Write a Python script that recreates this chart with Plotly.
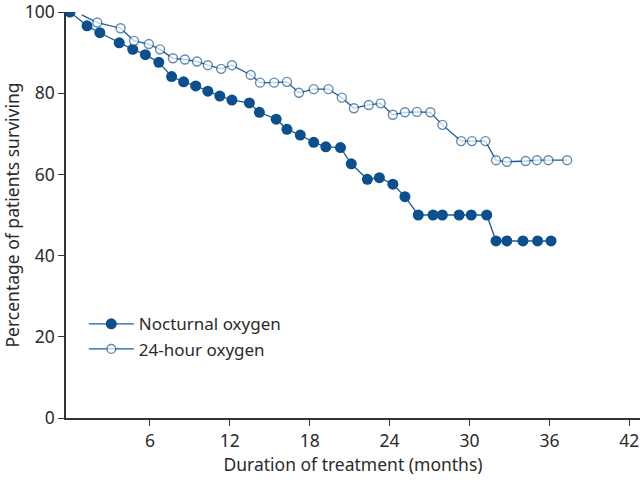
import plotly.graph_objects as go

# Nocturnal oxygen (filled markers)
noct_x = [0.0, 1.28, 2.24, 3.70, 4.71, 5.66, 6.67, 7.63, 8.53, 9.44, 10.35, 11.25, 12.16,
          13.47, 14.22, 15.48, 16.29, 17.29, 18.3, 19.21, 20.31, 21.12, 22.33, 23.23, 24.24,
          25.15, 26.15, 27.26, 27.96, 29.22, 30.13, 31.29, 31.99, 32.8, 34.01, 35.11, 36.12]
noct_y = [100.0, 96.6, 94.9, 92.4, 90.8, 89.5, 87.6, 84.1, 82.8, 81.8, 80.5, 79.3, 78.3,
          77.6, 75.3, 73.6, 71.1, 69.7, 67.9, 66.8, 66.6, 62.6, 58.8, 59.2, 57.6,
          54.5, 50.0, 50.0, 50.0, 50.0, 50.0, 50.0, 43.6, 43.6, 43.6, 43.6, 43.6]

# 24-hour oxygen (open markers); first point is the line start without a marker
h24_x = [0.88, 2.05, 3.80, 4.81, 5.92, 6.76, 7.73, 8.63, 9.54, 10.35, 11.35, 12.16, 13.57,
         14.27, 15.33, 16.29, 17.19, 18.3, 19.41, 20.41, 21.32, 22.43, 23.33, 24.24, 25.15,
         26.05, 27.06, 27.96, 29.37, 30.18, 31.19, 31.99, 32.8, 34.21, 35.06, 35.92, 37.33]
h24_y = [99.3, 97.4, 96.0, 92.9, 92.1, 90.8, 88.6, 88.3, 87.8, 86.9, 86.0, 86.9, 84.5,
         82.6, 82.6, 82.8, 80.1, 81.0, 81.0, 78.9, 76.3, 77.1, 77.5, 74.7, 75.3,
         75.4, 75.3, 72.2, 68.2, 68.2, 68.2, 63.5, 63.1, 63.3, 63.5, 63.5, 63.5]

x_ticks = [6, 12, 18, 24, 30, 36, 42]
y_ticks = [0, 20, 40, 60, 80, 100]

BLUE = "#0b4f8e"
LINE = "#1f5c96"
AX = "#333333"
FONT = "Noto Sans"
FS = 17.5

fig = go.Figure()
fig.add_trace(go.Scatter(
    x=noct_x, y=noct_y, mode="lines+markers", name="Nocturnal oxygen",
    line=dict(color=LINE, width=1.3),
    marker=dict(symbol="circle", size=11, color=BLUE, line=dict(width=0)),
))
h24_sizes = [0] + [9] * (len(h24_x) - 1)
fig.add_trace(go.Scatter(
    x=h24_x, y=h24_y, mode="lines+markers", name="24-hour oxygen",
    line=dict(color=LINE, width=1.3),
    marker=dict(symbol="circle", size=h24_sizes, color="white",
                line=dict(color=LINE, width=1.4)),
))

fig.update_layout(
    width=640, height=480,
    margin=dict(l=66, r=0, t=12, b=62, autoexpand=False),
    paper_bgcolor="white", plot_bgcolor="white",
    font=dict(family=FONT, size=FS, color="#2b2b2b"),
    showlegend=True,
    legend=dict(x=0.031, y=0.2, xanchor="left", yanchor="middle",
                bgcolor="rgba(0,0,0,0)", font=dict(size=17, color="#2b2b2b"),
                itemwidth=45, tracegroupgap=0),
    xaxis=dict(range=[-0.3, 42.8], tickvals=x_ticks, ticktext=[str(v) for v in x_ticks],
               automargin=False, ticklabeloverflow="allow",
               showgrid=False, zeroline=False, showline=True, linecolor=AX, linewidth=1.5,
               ticks="outside", ticklen=6, tickcolor=AX, tickwidth=1.3,
               title=dict(text="Duration of treatment (months)", standoff=4,
                          font=dict(size=FS))),
    yaxis=dict(range=[0, 100], tickvals=y_ticks, ticktext=[str(v) for v in y_ticks],
               automargin=False, ticklabeloverflow="allow",
               showgrid=False, zeroline=False, showline=True, linecolor=AX, linewidth=1.5,
               ticks="outside", ticklen=6, tickcolor=AX, tickwidth=1.3,
               title=dict(text="Percentage of patients surviving", standoff=4,
                          font=dict(size=FS))),
)

fig.write_html("out.html", config={"displayModeBar": False},
               post_script="document.body.style.margin='0';")
